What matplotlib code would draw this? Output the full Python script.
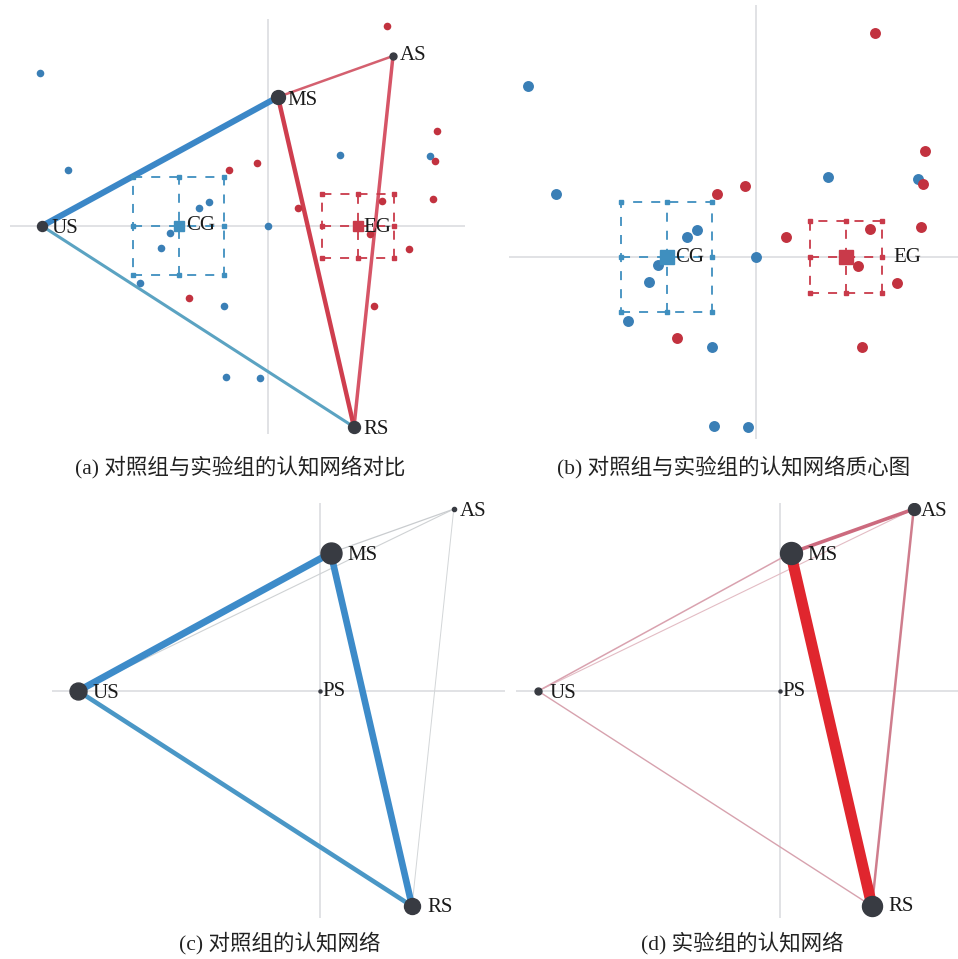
import matplotlib
matplotlib.use("Agg")
import matplotlib.pyplot as plt

plt.rcParams['font.family'] = ['Liberation Serif', 'Noto Sans CJK SC', 'DejaVu Sans']

# ---------------- data ----------------
node_names = ["US", "MS", "AS", "RS", "PS"]
node_x = [-2.26, 0.10, 1.25, 0.86, 0.0]
node_y = [0.0, 1.29, 1.70, -2.01, 0.0]

# control group (CG) individual points
cg_x = [-2.28, -2.00, -0.59, -0.69, -0.98, -1.07, -1.28, -0.44, 0.00, 0.72, 1.62, -0.42, -0.08]
cg_y = [1.53, 0.56, 0.24, 0.18, -0.07, -0.22, -0.57, -0.80, 0.00, 0.71, 0.70, -1.51, -1.52]
# experimental group (EG) individual points
eg_x = [1.19, 1.69, 1.67, 1.65, -0.39, -0.11, 0.30, 1.14, 1.02, 1.41, -0.79, 1.06]
eg_y = [2.00, 0.95, 0.65, 0.27, 0.56, 0.63, 0.18, 0.25, -0.08, -0.23, -0.72, -0.80]

# centroids and confidence boxes
cg_center = (-0.89, 0.0)
cg_box_x = (-1.35, -0.44)
cg_box_y = (-0.49, 0.49)
eg_center = (0.90, 0.0)
eg_box_x = (0.54, 1.26)
eg_box_y = (-0.32, 0.32)

# panel (a) network comparison: edges (i, j, width, colour)
a_nodes = ["US", "MS", "AS", "RS"]
a_node_size = [7.2, 10.0, 5.0, 8.6]
a_edges = [("US", "RS", 2.2, "#5ba3c2"),
           ("US", "MS", 4.4, "#3b87c7"),
           ("MS", "AS", 1.8, "#d4606f"),
           ("AS", "RS", 2.5, "#d65567"),
           ("MS", "RS", 3.2, "#cf3e4e")]

# panel (c) control network
c_nodes = ["US", "MS", "AS", "RS", "PS"]
c_node_size = [12.2, 15.1, 3.0, 11.5, 2.2]
c_edges = [("US", "AS", 0.8, "#cfd2d4"),
           ("MS", "AS", 0.9, "#c9cccf"),
           ("AS", "RS", 0.7, "#d3d6d8"),
           ("US", "RS", 3.3, "#4a97c6"),
           ("US", "MS", 5.0, "#3d8bc9"),
           ("MS", "RS", 4.8, "#3d8bc9")]

# panel (d) experimental network
d_nodes = ["US", "MS", "AS", "RS", "PS"]
d_node_size = [5.0, 15.8, 8.6, 14.4, 2.2]
d_edges = [("US", "AS", 0.8, "#e3bcc4"),
           ("US", "RS", 1.0, "#d7a2ae"),
           ("US", "MS", 1.1, "#d9a2af"),
           ("AS", "RS", 1.8, "#cf7d8d"),
           ("MS", "AS", 2.6, "#cc6a7e"),
           ("MS", "RS", 8.0, "#e0262e")]

captions = ["(a) 对照组与实验组的认知网络对比",
            "(b) 对照组与实验组的认知网络质心图",
            "(c) 对照组的认知网络",
            "(d) 实验组的认知网络"]

BLUE = "#3a7fb6"
RED = "#c2323f"
NODE = "#383b42"
GRID = "#dcdde0"

W, H = 958, 959
fig = plt.figure(figsize=(W / 100, H / 100), dpi=100)
fig.patch.set_facecolor("white")


def make_ax(l, r, t, b, xlim, ylim):
    ax = fig.add_axes([l / W, 1 - b / H, (r - l) / W, (b - t) / H])
    ax.set_xlim(*xlim)
    ax.set_ylim(*ylim)
    ax.axis("off")
    ax.axhline(0, color=GRID, lw=1.2, zorder=0)
    ax.axvline(0, color=GRID, lw=1.2, zorder=0)
    return ax


def draw_box(ax, center, bx, by, color, msz, csz):
    cx, cy = center
    dash = dict(color=color, lw=1.3, ls=(0, (5, 5)), zorder=3)
    ax.plot([bx[0], bx[1], bx[1], bx[0], bx[0]], [by[0], by[0], by[1], by[1], by[0]], **dash)
    ax.plot([cx, cx], [by[0], by[1]], **dash)
    ax.plot([bx[0], bx[1]], [cy, cy], **dash)
    mx = [bx[0], cx, bx[1], bx[0], bx[1], bx[0], cx, bx[1]]
    my = [by[1], by[1], by[1], cy, cy, by[0], by[0], by[0]]
    ax.plot(mx, my, ls="none", marker="s", ms=msz, color=color, zorder=4)
    ax.plot([cx], [cy], ls="none", marker="s", ms=csz, color=color, zorder=5)


def draw_network(ax, nodes, sizes, edges, offsets):
    for a, b, w, c in edges:
        i, j = node_names.index(a), node_names.index(b)
        ax.plot([node_x[i], node_x[j]], [node_y[i], node_y[j]], color=c, lw=w,
                solid_capstyle="round", zorder=2)
    for n, s in zip(nodes, sizes):
        i = node_names.index(n)
        ax.plot([node_x[i]], [node_y[i]], marker="o", ms=s, color=NODE, ls="none", zorder=6)
        dx, dy = offsets[n]
        ax.annotate(n, (node_x[i], node_y[i]), xytext=(dx, dy), textcoords="offset points",
                    ha="left", va="center", fontsize=15, color="#1a1a1a", zorder=7,
                    annotation_clip=False)


# ---------------- (a) ----------------
axa = make_ax(10, 465, 19, 434, (-2.58, 1.97), (-2.08, 2.07))
axa.scatter(cg_x, cg_y, s=30, color=BLUE, zorder=3, linewidths=0)
axa.scatter(eg_x, eg_y, s=30, color=RED, zorder=3, linewidths=0)
draw_box(axa, cg_center, cg_box_x, cg_box_y, "#3f8fbf", 2.6, 7.5)
draw_box(axa, eg_center, eg_box_x, eg_box_y, "#c93a4a", 2.6, 7.5)
axa.annotate("CG", cg_center, xytext=(5, 0), textcoords="offset points", ha="left",
             va="center", fontsize=15, color="#1a1a1a", zorder=7)
axa.annotate("EG", eg_center, xytext=(4, -1), textcoords="offset points", ha="left",
             va="center", fontsize=15, color="#1a1a1a", zorder=7)
draw_network(axa, a_nodes, a_node_size, a_edges,
             {"US": (7, -1.5), "MS": (7, -2.5), "AS": (5, 0), "RS": (7, -1.5)})

# ---------------- (b) ----------------
axb = make_ax(509, 958, 5, 439, (-2.47, 2.02), (-1.625, 2.25))
axb.scatter(cg_x, cg_y, s=62, color=BLUE, zorder=3, linewidths=0)
axb.scatter(eg_x, eg_y, s=62, color=RED, zorder=3, linewidths=0)
draw_box(axb, cg_center, cg_box_x, cg_box_y, "#3f8fbf", 3.2, 10)
draw_box(axb, eg_center, eg_box_x, eg_box_y, "#c93a4a", 3.2, 10)
axb.annotate("CG", cg_center, xytext=(6, 0), textcoords="offset points", ha="left",
             va="center", fontsize=15, color="#1a1a1a", zorder=7)
axb.annotate("EG", eg_center, xytext=(34, 0), textcoords="offset points", ha="left",
             va="center", fontsize=15, color="#1a1a1a", zorder=7)

# ---------------- (c) ----------------
axc = make_ax(52, 505, 503, 918, (-2.505, 1.729), (-2.121, 1.757))
draw_network(axc, c_nodes, c_node_size, c_edges,
             {"US": (10, -1.5), "MS": (12, -2), "AS": (4, -2), "RS": (11, -1), "PS": (2, 0)})

# ---------------- (d) ----------------
axd = make_ax(516, 958, 503, 918, (-2.467, 1.664), (-2.121, 1.757))
draw_network(axd, d_nodes, d_node_size, d_edges,
             {"US": (8, -2), "MS": (12, -2), "AS": (5, -1.5), "RS": (12, 0), "PS": (1.5, 0)})

# ---------------- captions ----------------
cap_pos = [(240, 467), (734, 467), (280, 943), (742, 943)]
for txt, (x, y) in zip(captions, cap_pos):
    fig.text(x / W, 1 - y / H, txt, ha="center", va="center", fontsize=15.5, color="#222222")

fig.savefig("out.png", dpi=100, facecolor="white")
